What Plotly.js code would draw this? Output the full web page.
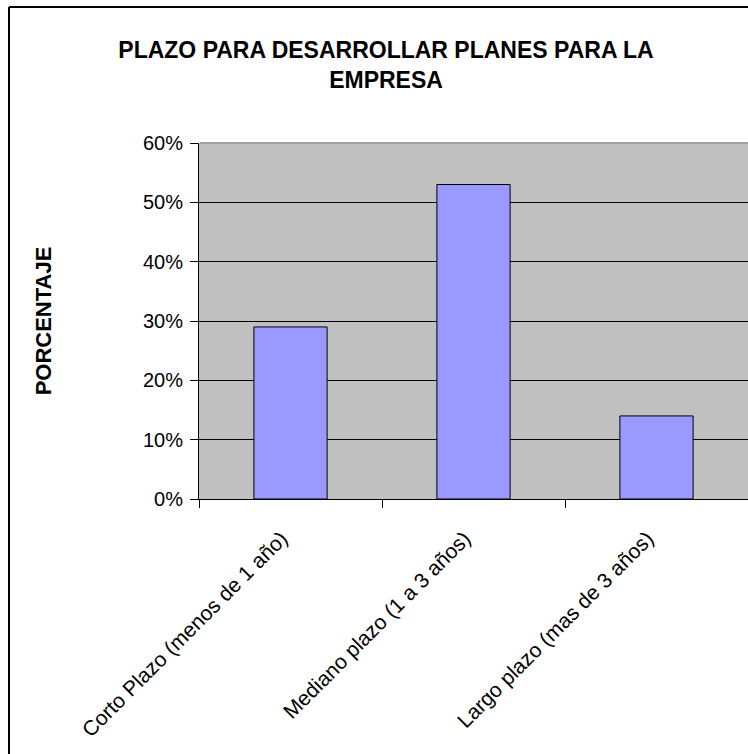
<!DOCTYPE html>
<html>
<head>
<meta charset="utf-8">
<script src="https://cdn.plot.ly/plotly-3.0.1.min.js"></script>
<style>
  html, body { margin: 0; padding: 0; background: #ffffff; }
  #chart { width: 748px; height: 754px; }
</style>
</head>
<body>
<div id="chart"></div>
<script>
// Plazo para desarrollar planes: share of answers per horizon
const categories = [
  'Corto Plazo (menos de 1 año)',
  'Mediano plazo (1 a 3 años)',
  'Largo plazo (mas de 3 años)'
];
const porcentajes = [0.29, 0.53, 0.14];
const yTickValues = [0, 0.1, 0.2, 0.3, 0.4, 0.5, 0.6];

const font = 'Arial, "Liberation Sans", Helvetica, sans-serif';

// Plot-area geometry in pixels
const W = 748, H = 754;
const plotLeft = 199, plotTop = 143, plotBottom = 499;
const plotW = W - plotLeft, plotH = plotBottom - plotTop;
const px = x => (x - plotLeft) / plotW;
const py = y => (plotBottom - y) / plotH;

const trace = {
  type: 'bar',
  x: categories,
  y: porcentajes,
  marker: { color: '#9999FF', line: { color: '#000000', width: 1 } },
  hoverinfo: 'x+y'
};

const layout = {
  width: W,
  height: H,
  margin: { l: plotLeft, r: 0, t: plotTop, b: H - plotBottom, pad: 0 },
  paper_bgcolor: '#ffffff',
  plot_bgcolor: '#C0C0C0',
  showlegend: false,
  bargap: 0.6,
  font: { family: font, color: '#000000', size: 20 },
  title: {
    text: 'PLAZO PARA DESARROLLAR PLANES PARA LA<br>EMPRESA',
    xref: 'container', yref: 'container',
    x: 386 / W, xanchor: 'center',
    y: 1 - 58 / H, yanchor: 'top',
    font: { family: font, size: 23, color: '#000000', weight: 'bold' }
  },
  xaxis: {
    type: 'category',
    tickson: 'boundaries',
    ticks: 'outside', ticklen: 8, tickcolor: '#000000', tickwidth: 1,
    tickangle: -45,
    ticklabelstandoff: 18,
    ticklabelshift: -9,
    tickfont: { family: font, size: 21, color: '#000000' },
    showline: true, linecolor: '#000000', linewidth: 1,
    showgrid: false, zeroline: false,
    automargin: false
  },
  yaxis: {
    range: [0, 0.6],
    tickvals: yTickValues,
    tickformat: '.0%',
    ticks: 'outside', ticklen: 8, tickcolor: '#000000', tickwidth: 1,
    ticklabelstandoff: 3,
    tickfont: { family: font, size: 20, color: '#000000' },
    showline: true, linecolor: '#000000', linewidth: 1,
    showgrid: true, gridcolor: '#000000', gridwidth: 1,
    zeroline: false,
    automargin: false,
    title: {
      text: 'PORCENTAJE',
      standoff: 85,
      font: { family: font, size: 22, color: '#000000', weight: 'bold' }
    }
  },
  shapes: [
    // outer chart frame (left and top edges)
    {
      type: 'line', xref: 'paper', yref: 'paper', layer: 'above',
      x0: px(9), x1: px(9), y0: py(H + 20), y1: py(7),
      line: { color: '#000000', width: 2 }
    },
    {
      type: 'line', xref: 'paper', yref: 'paper', layer: 'above',
      x0: px(9), x1: px(W + 20), y0: py(7), y1: py(7),
      line: { color: '#000000', width: 2 }
    },
    // lighter top edge of the plot area
    {
      type: 'line', xref: 'paper', yref: 'paper', layer: 'above',
      x0: 0.002, x1: 1, y0: 1, y1: 1,
      line: { color: '#A0A0A0', width: 2 }
    }
  ]
};

Plotly.newPlot('chart', [trace], layout, { displayModeBar: false, staticPlot: true });
</script>
</body>
</html>
